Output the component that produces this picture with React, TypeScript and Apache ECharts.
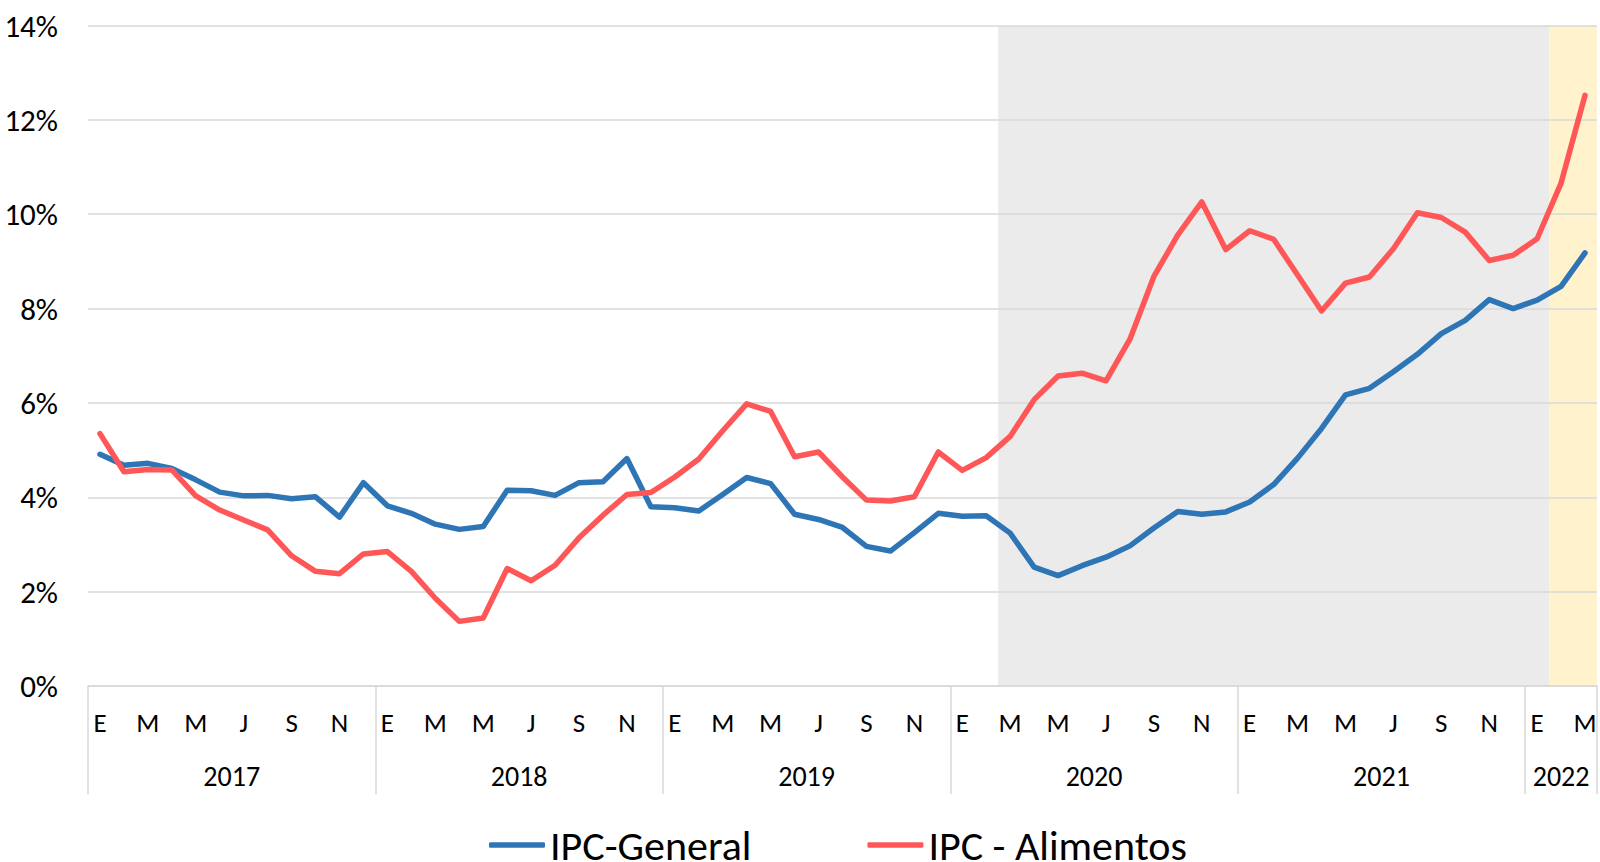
import React, { useEffect, useRef } from "react";
import * as echarts from "echarts";

const years = [2017, 2018, 2019, 2020, 2021, 2022];
const monthsInYear = [12, 12, 12, 12, 12, 3];
const monthInitials = ["E", "F", "M", "A", "M", "J", "J", "A", "S", "O", "N", "D"];

const ipcGeneral = [
  4.91, 4.68, 4.72, 4.61, 4.37, 4.11, 4.03, 4.04, 3.97, 4.01, 3.58, 4.31,
  3.82, 3.66, 3.43, 3.32, 3.38, 4.15, 4.14, 4.04, 4.31, 4.33, 4.82, 3.8,
  3.78, 3.71, 4.06, 4.42, 4.29, 3.64, 3.53, 3.36, 2.96, 2.86, 3.25, 3.66,
  3.6, 3.61, 3.24, 2.52, 2.34, 2.55, 2.73, 2.97, 3.35, 3.7, 3.64, 3.69,
  3.9, 4.27, 4.83, 5.46, 6.17, 6.31, 6.66, 7.03, 7.47, 7.75, 8.19, 8.0,
  8.18, 8.47, 9.18,
];

const ipcAlimentos = [
  5.35, 4.54, 4.59, 4.58, 4.03, 3.73, 3.52, 3.31, 2.76, 2.43, 2.38, 2.8,
  2.85, 2.43, 1.86, 1.37, 1.44, 2.49, 2.23, 2.56, 3.14, 3.62, 4.06, 4.1,
  4.43, 4.81, 5.41, 5.98, 5.82, 4.86, 4.96, 4.43, 3.94, 3.92, 4.01, 4.96,
  4.57, 4.84, 5.29, 6.07, 6.57, 6.63, 6.47, 7.35, 8.68, 9.56, 10.26, 9.25,
  9.65, 9.47, 8.71, 7.95, 8.54, 8.67, 9.27, 10.03, 9.93, 9.62, 9.02, 9.13,
  9.48, 10.66, 12.52,
];

const grayPeriod = ["2020-03", "2022-01"];
const yellowPeriod = ["2022-02", "2022-03"];

const yMin = 0;
const yMax = 14;
const yStep = 2;

const seriesNames = ["IPC-General", "IPC - Alimentos"];
const seriesColors = ["#2E75B6", "#FF5757"];

const FONT = "Carlito, Calibri, Lato, sans-serif";

export default function App() {
  const ref = useRef<HTMLDivElement>(null);

  useEffect(() => {
    if (!ref.current) return;
    const chart = echarts.init(ref.current, undefined, { renderer: "svg" });

    const categories: string[] = [];
    const yearCenters: { year: number; center: number }[] = [];
    years.forEach((y, k) => {
      const start = categories.length;
      for (let m = 0; m < monthsInYear[k]; m++) {
        categories.push(`${y}-${String(m + 1).padStart(2, "0")}`);
      }
      yearCenters.push({ year: y, center: start + monthsInYear[k] / 2 });
    });
    const n = categories.length;
    const periodRange = (p: string[]) => [
      categories.indexOf(p[0]),
      categories.indexOf(p[1]) + 1,
    ];
    const g = periodRange(grayPeriod);
    const yl = periodRange(yellowPeriod);

    const shadeSeries = (range: number[], color: string, name: string) => ({
      name,
      type: "line",
      xAxisIndex: 1,
      yAxisIndex: 0,
      data: [
        [range[0], yMax],
        [range[1], yMax],
      ],
      symbol: "none",
      lineStyle: { width: 0, opacity: 0 },
      areaStyle: { color, opacity: 1 },
      z: -1,
      silent: true,
    });

    chart.setOption({
      animation: false,
      backgroundColor: "#ffffff",
      textStyle: { fontFamily: FONT },
      grid: { left: 88, right: 3, top: 25.5, bottom: 176, containLabel: false },
      legend: {
        data: seriesNames,
        left: 484,
        top: 819,
        icon: "roundRect",
        itemWidth: 56,
        itemHeight: 5.5,
        itemGap: 116,
        textStyle: { fontSize: 42, color: "#000", fontFamily: FONT },
      },
      xAxis: [
        {
          type: "category",
          data: categories,
          boundaryGap: true,
          position: "bottom",
          axisLine: { show: true, lineStyle: { color: "#D9D9D9", width: 1.5 } },
          axisTick: {
            show: true,
            interval: (index: number) => categories[index].endsWith("-01"),
            length: 108,
            lineStyle: { color: "#D9D9D9", width: 1.5 },
          },
          axisLabel: {
            interval: (index: number) => index % 2 === 0,
            formatter: (v: string) => monthInitials[parseInt(v.slice(5), 10) - 1],
            fontSize: 27,
            color: "#000",
            margin: 23,
            fontFamily: FONT,
          },
          splitLine: { show: false },
        },
        {
          type: "value",
          min: 0,
          max: n,
          interval: 1.5,
          position: "bottom",
          axisLine: { show: false },
          axisTick: { show: false },
          splitLine: { show: false },
          axisLabel: {
            show: true,
            margin: 76,
            fontSize: 28,
            color: "#000",
            fontFamily: FONT,
            showMinLabel: true,
            showMaxLabel: true,
            formatter: (v: number) => {
              const f = yearCenters.find((c) => Math.abs(c.center - v) < 1e-6);
              return f ? String(f.year) : "";
            },
          },
        },
      ],
      yAxis: {
        type: "value",
        min: yMin,
        max: yMax,
        interval: yStep,
        axisLine: { show: false },
        axisTick: { show: false },
        axisLabel: {
          formatter: "{value}%",
          fontSize: 31,
          color: "#000",
          margin: 30,
          fontFamily: FONT,
        },
        splitLine: { show: true, lineStyle: { color: "#D9D9D9", width: 1.5 } },
      },
      series: [
        shadeSeries(g, "#EBEBEB", "gray"),
        shadeSeries(yl, "#FFF2CC", "yellow"),
        {
          name: seriesNames[0],
          type: "line",
          data: ipcGeneral,
          symbol: "none",
          color: seriesColors[0],
          lineStyle: { width: 5.5, color: seriesColors[0], cap: "round", join: "round" },
          z: 3,
        },
        {
          name: seriesNames[1],
          type: "line",
          data: ipcAlimentos,
          symbol: "none",
          color: seriesColors[1],
          lineStyle: { width: 5.5, color: seriesColors[1], cap: "round", join: "round" },
          z: 3,
        },
      ],
    });

    return () => chart.dispose();
  }, []);

  return (
    <div
      ref={ref}
      style={{ position: "fixed", left: 0, top: 0, width: 1600, height: 862, background: "#fff" }}
    />
  );
}
